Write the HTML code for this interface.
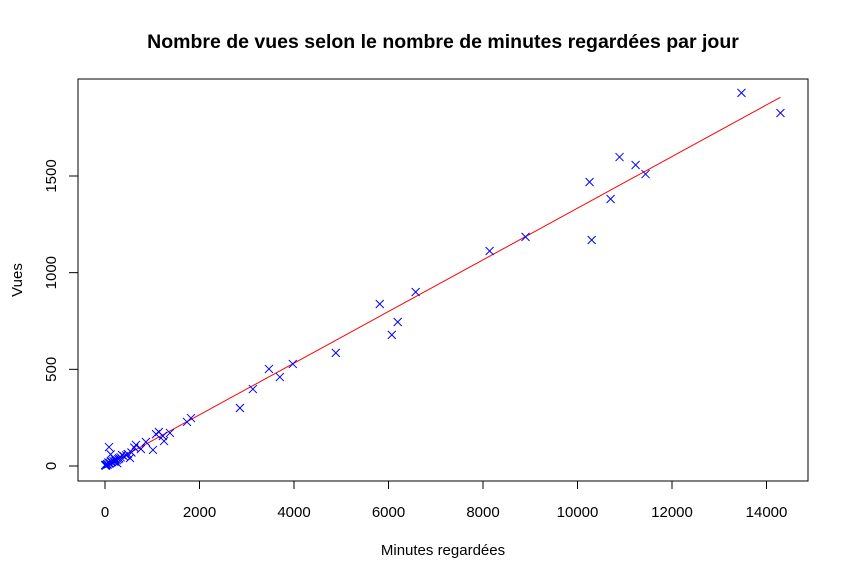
<!DOCTYPE html>
<html><head><meta charset="utf-8"><style>
body{margin:0;background:#fff;}
svg text{font-family:"Liberation Sans",Arial,sans-serif;fill:#000;}
</style></head><body>
<svg id="chart" width="848" height="579" xmlns="http://www.w3.org/2000/svg">
<rect width="848" height="579" fill="#fff"/>
<text x="443" y="48" text-anchor="middle" font-size="19.5" font-weight="bold">Nombre de vues selon le nombre de minutes regardées par jour</text>
<text x="443" y="555" text-anchor="middle" font-size="15">Minutes regardées</text>
<text x="0" y="0" transform="translate(22,280) rotate(-90)" text-anchor="middle" font-size="15">Vues</text>
<rect x="78" y="79" width="730" height="402" fill="none" stroke="#000" stroke-width="1"/>
<g id="xaxis"></g>
<g id="yaxis"></g>
<g id="fit"></g>
<g id="pts"></g>
</svg>
<script>
const minutes=[13470,14295,10890,11230,11440,10255,10700,10300,8900,8140,6575,5815,6195,6070,4885,3975,3470,3700,3130,2855,1820,1735,85,1140,1375,1225,1250,1080,1015,865,655,760,360,530,210,127,42,5,300,450,250,180,100,60,20,150,220,280,330,400,90,30,10,70,120,200,260,480,560,620];
const views=[1930,1826,1598,1557,1510,1469,1381,1169,1185,1112,900,838,745,678,585,528,502,460,398,300,248,228,98,176,171,155,129,165,83,124,109,88,57,41,36,21,10,5,40,55,30,25,15,8,3,20,28,35,45,50,12,5,2,18,60,22,14,62,70,95];
const xTicks=[0,2000,4000,6000,8000,10000,12000,14000];
const yTicks=[0,500,1000,1500];
const NS="http://www.w3.org/2000/svg";
const xs=v=>105+v*(94.5/2000);
const ys=v=>466-v*(96.67/500);
function mk(t,a){const e=document.createElementNS(NS,t);for(const k in a)e.setAttribute(k,a[k]);return e;}
const xa=document.getElementById('xaxis');
xa.appendChild(mk('line',{x1:xs(xTicks[0]),x2:xs(xTicks[xTicks.length-1]),y1:481,y2:481,stroke:'#000'}));
xTicks.forEach(t=>{
 const l=mk('line',{x1:xs(t),x2:xs(t),y1:481,y2:489,stroke:'#000'});
 
 
 xa.appendChild(l);
 const tx=mk('text',{x:xs(t),y:517,'text-anchor':'middle','font-size':'15'});
 tx.textContent=t;
 
 
 xa.appendChild(tx);
});
const ya=document.getElementById('yaxis');
ya.appendChild(mk('line',{x1:78,x2:78,y1:ys(yTicks[0]),y2:ys(yTicks[yTicks.length-1]),stroke:'#000'}));
yTicks.forEach(t=>{
 const l=mk('line',{x1:69,x2:78,y1:ys(t),y2:ys(t),stroke:'#000'});
 
 
 ya.appendChild(l);
 const tx=mk('text',{x:0,y:0,transform:`translate(56,${ys(t)}) rotate(-90)`,'text-anchor':'middle','font-size':'15'});
 tx.textContent=t;
 
 
 ya.appendChild(tx);
});
const n=minutes.length;let sx=0,sy=0,sxx=0,sxy=0;
for(let i=0;i<n;i++){sx+=minutes[i];sy+=views[i];sxx+=minutes[i]*minutes[i];sxy+=minutes[i]*views[i];}
const b=(n*sxy-sx*sy)/(n*sxx-sx*sx),a=(sy-b*sx)/n;
const mn=Math.min(...minutes),mx=Math.max(...minutes);
const fl=mk('line',{x1:xs(mn),y1:ys(a+b*mn),x2:xs(mx),y2:ys(a+b*mx),stroke:'#ff0000','stroke-width':'1'});


document.getElementById('fit').appendChild(fl);
const pg=document.getElementById('pts');
for(let i=0;i<n;i++){
 const cx=xs(minutes[i]),cy=ys(views[i]),r=4;
 const p=mk('path',{d:`M${cx-r} ${cy-r}L${cx+r} ${cy+r}M${cx-r} ${cy+r}L${cx+r} ${cy-r}`,stroke:'#0000ff','stroke-width':'1',fill:'none'});
 
 
 pg.appendChild(p);
}
</script>
</body></html>
